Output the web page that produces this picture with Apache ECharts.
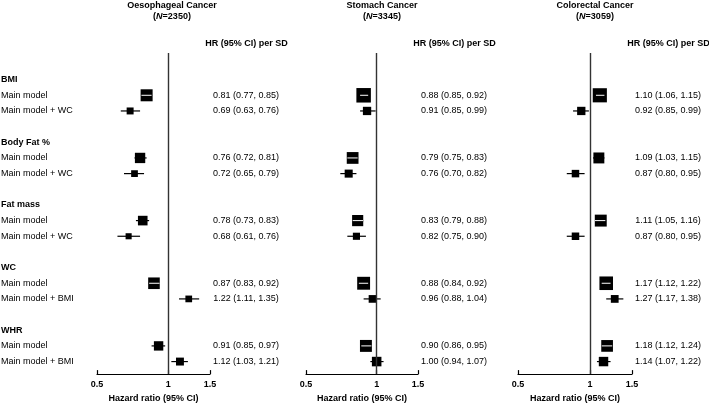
<!DOCTYPE html>
<html>
<head>
<meta charset="utf-8">
<script src="https://cdn.jsdelivr.net/npm/echarts@6/dist/echarts.min.js"></script>
<style>
html,body{margin:0;padding:0;background:#fff}
#main{width:709px;height:408px}
</style>
</head>
<body>
<div id="main"></div>
<script>
/* 数据 */
var cancers = ['Oesophageal Cancer', 'Stomach Cancer', 'Colorectal Cancer'];
var caseN = [2350, 3345, 3059];
var measures = ['BMI', 'Body Fat %', 'Fat mass', 'WC', 'WHR'];
var adjusted = ['Main model + WC', 'Main model + WC', 'Main model + WC', 'Main model + BMI', 'Main model + BMI'];

// 每个指标两行: 主模型, 调整模型
var hrOeso = [0.81, 0.69, 0.76, 0.72, 0.78, 0.68, 0.87, 1.22, 0.91, 1.12];
var loOeso = [0.77, 0.63, 0.72, 0.65, 0.73, 0.61, 0.83, 1.11, 0.85, 1.03];
var hiOeso = [0.85, 0.76, 0.81, 0.79, 0.83, 0.76, 0.92, 1.35, 0.97, 1.21];

var hrStom = [0.88, 0.91, 0.79, 0.76, 0.83, 0.82, 0.88, 0.96, 0.90, 1.00];
var loStom = [0.85, 0.85, 0.75, 0.70, 0.79, 0.75, 0.84, 0.88, 0.86, 0.94];
var hiStom = [0.92, 0.99, 0.83, 0.82, 0.88, 0.90, 0.92, 1.04, 0.95, 1.07];

var hrColo = [1.10, 0.92, 1.09, 0.87, 1.11, 0.87, 1.17, 1.27, 1.18, 1.14];
var loColo = [1.06, 0.85, 1.03, 0.80, 1.05, 0.80, 1.12, 1.17, 1.12, 1.07];
var hiColo = [1.15, 0.99, 1.15, 0.95, 1.16, 0.95, 1.22, 1.38, 1.24, 1.22];

var xTicks = [0.5, 1, 1.5];

var FONT = '"Liberation Sans", Arial, sans-serif';
var panels = [
	{hr: hrOeso, lo: loOeso, hi: hiOeso, left: 97, width: 113, titleX: 172},
	{hr: hrStom, lo: loStom, hi: hiStom, left: 306, width: 112, titleX: 382},
	{hr: hrColo, lo: loColo, hi: hiColo, left: 518, width: 114, titleX: 595}
];

// 方块大小随置信区间宽度(权重)变化
function boxSize(lo, hi){
	return 12 * Math.pow(0.0989 / Math.log(hi / lo), 0.85);
}

// 行标签: 指标标题 + 两个模型
var rowLabels = [];
for (var g = 0; g < measures.length; g++) {
	rowLabels.push([1, g * 4, measures[g], 1]);
	rowLabels.push([1, g * 4 + 1, 'Main model', 0]);
	rowLabels.push([1, g * 4 + 2, adjusted[g], 0]);
}

function renderForest(params, api){
	var slot = api.value(1), hr = api.value(0), lo = api.value(2), hi = api.value(3);
	var c = api.coord([hr, slot]);
	var a = api.coord([lo, slot]);
	var b = api.coord([hi, slot]);
	var size = boxSize(lo, hi);
	var cs = params.coordSys;
	var children = [
		{type: 'line', shape: {x1: a[0], y1: c[1], x2: b[0], y2: c[1]}, style: {stroke: '#000', lineWidth: 1.2}},
		{type: 'rect', shape: {x: c[0] - size / 2, y: c[1] - size / 2, width: size, height: size}, style: {fill: '#000'}}
	];
	// 置信区间比方块窄时, 用白线画在方块内
	if (b[0] - a[0] < size) {
		children.push({type: 'line', shape: {x1: a[0], y1: c[1], x2: b[0], y2: c[1]}, style: {stroke: '#fff', lineWidth: 1}});
	}
	children.push({
		type: 'text', x: cs.x + cs.width + 36, y: c[1],
		style: {
			text: hr.toFixed(2) + ' (' + lo.toFixed(2) + ', ' + hi.toFixed(2) + ')',
			align: 'center', verticalAlign: 'middle',
			fontSize: 9, fontFamily: FONT, fill: '#000'
		}
	});
	return {type: 'group', children: children};
}

function renderLabel(params, api){
	var y = api.coord([1, api.value(1)])[1];
	var item = rowLabels[params.dataIndex];
	return {
		type: 'text', x: 1, y: y,
		style: {
			text: item[2], align: 'left', verticalAlign: 'middle',
			fontSize: 9, fontWeight: item[3] ? 'bold' : 'normal', fontFamily: FONT, fill: '#000'
		}
	};
}

var grids = [], xAxes = [], yAxes = [], series = [], graphics = [];
panels.forEach(function(p, i){
	grids.push({left: p.left, width: p.width, top: 53, bottom: 30});
	xAxes.push({
		type: 'log', logBase: 10, gridIndex: i, min: 0.5, max: 1.5,
		name: 'Hazard ratio (95% CI)', nameLocation: 'middle', nameGap: 18,
		nameTextStyle: {fontSize: 9, fontWeight: 'bold', fontFamily: FONT, color: '#000'},
		axisLine: {onZero: false, lineStyle: {color: '#000', width: 1.2}},
		axisTick: {inside: true, length: 4, customValues: xTicks, lineStyle: {color: '#000', width: 1.2}},
		axisLabel: {customValues: xTicks, margin: 6, fontSize: 9, fontWeight: 'bold', fontFamily: FONT, color: '#000',
			showMinLabel: true, showMaxLabel: true},
		splitLine: {show: false}, minorTick: {show: false}
	});
	yAxes.push({type: 'value', gridIndex: i, inverse: true, min: -1.7, max: 18.8, show: false});

	var data = [];
	for (var k = 0; k < p.hr.length; k++) {
		var slot = Math.floor(k / 2) * 4 + 1 + (k % 2);
		data.push([p.hr[k], slot, p.lo[k], p.hi[k]]);
	}
	series.push({
		type: 'custom', xAxisIndex: i, yAxisIndex: i, renderItem: renderForest,
		encode: {x: [0, 2, 3], y: 1}, data: data, silent: true,
		markLine: {
			silent: true, symbol: 'none', label: {show: false},
			lineStyle: {color: '#333', width: 1.4, type: 'solid'},
			data: [{xAxis: 1}]
		}
	});

	graphics.push({
		type: 'text', x: p.titleX, y: 6,
		style: {text: cancers[i], align: 'center', verticalAlign: 'middle', fontSize: 9, fontWeight: 'bold', fontFamily: FONT, fill: '#000'}
	});
	graphics.push({
		type: 'text', x: p.titleX, y: 17,
		style: {
			text: '{b|(}{i|N}{b|=' + caseN[i] + ')}', align: 'center', verticalAlign: 'middle',
			rich: {
				b: {fontSize: 9, fontWeight: 'bold', fontFamily: FONT, fill: '#000'},
				i: {fontSize: 9, fontWeight: 'bold', fontStyle: 'italic', fontFamily: FONT, fill: '#000'}
			}
		}
	});
	graphics.push({
		type: 'text', x: p.left + p.width + 36.5, y: 44,
		style: {text: 'HR (95% CI) per SD', align: 'center', verticalAlign: 'middle', fontSize: 9, fontWeight: 'bold', fontFamily: FONT, fill: '#000'}
	});
});

series.push({
	type: 'custom', xAxisIndex: 0, yAxisIndex: 0, renderItem: renderLabel,
	encode: {x: 0, y: 1}, data: rowLabels, silent: true
});

var myChart = echarts.init(document.getElementById('main'));
myChart.setOption({
	animation: false,
	backgroundColor: '#fff',
	textStyle: {fontFamily: FONT},
	grid: grids,
	xAxis: xAxes,
	yAxis: yAxes,
	graphic: graphics,
	series: series
});
</script>
</body>
</html>
